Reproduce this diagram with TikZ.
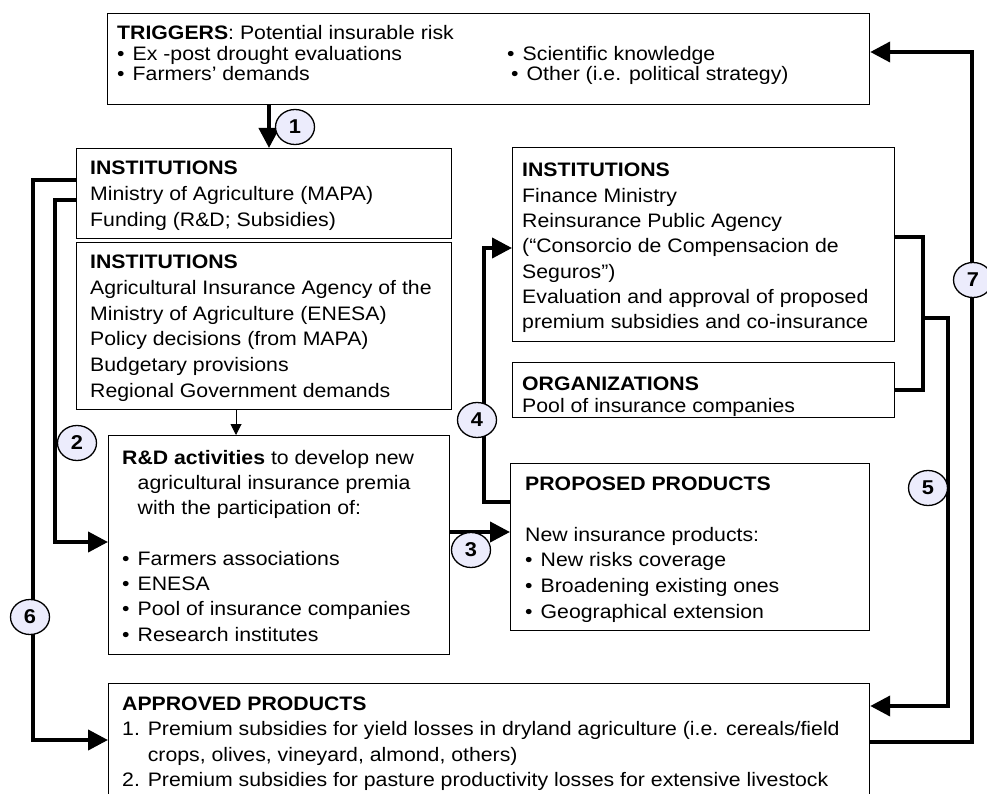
\documentclass[tikz,border=0pt]{standalone}
\usepackage{fontspec}
\setmainfont[FakeStretch=1.09]{Liberation Sans}
\usetikzlibrary{arrows.meta,shapes.geometric}
\definecolor{badgefill}{RGB}{236,236,252}
% stacked lines whose reference point is the first baseline
\newcommand{\stack}[1]{\begin{tabular}[t]{@{}l@{}}#1\end{tabular}}
\newcommand{\bul}{\makebox[15.5pt][l]{•}}

\begin{document}
\begin{tikzpicture}[x=1pt,y=-1pt,
  box/.style={draw, line width=1.2pt, rectangle, inner sep=0pt, anchor=north west},
  txt/.style={anchor=base west, inner sep=0pt, font=\fontsize{19.5}{25.6}\selectfont},
  tight/.style={txt, font=\fontsize{19.5}{20.5}\selectfont},
  flow/.style={line width=4pt, -{Triangle[length=20pt,width=20pt]}},
  link/.style={line width=4pt},
  feed/.style={line width=1pt, -{Triangle[length=11pt,width=11pt]}},
  badge/.style={draw, ellipse, line width=1.3pt, fill=badgefill,
    minimum width=39pt, minimum height=35pt, inner sep=0pt,
    font=\fontsize{20}{20}\selectfont\bfseries},
]
\clip (0,0) rectangle (987,794);
\renewcommand{\arraystretch}{1}

% ---------- boxes ----------
\node[box, minimum width=762pt, minimum height=91pt]  (trig) at (107,13)  {};
\node[box, minimum width=375pt, minimum height=90pt]  (insA) at (76,148)  {};
\node[box, minimum width=375pt, minimum height=167pt] (insB) at (76,242)  {};
\node[box, minimum width=341pt, minimum height=219pt] (rnd)  at (108,435) {};
\node[box, minimum width=382pt, minimum height=194pt] (insC) at (512,147) {};
\node[box, minimum width=382pt, minimum height=55pt]  (org)  at (512,362) {};
\node[box, minimum width=359pt, minimum height=167pt] (prop) at (510,463) {};
\node[box, minimum width=761pt, minimum height=140pt] (appr) at (108,683) {};

% ---------- texts ----------
\node[tight] (trig-l) at (117,40) {\stack{\textbf{TRIGGERS}: Potential insurable risk\\
  \bul Ex -post drought evaluations\\
  \bul Farmers’ demands}};
\node[tight] (trig-r) at (507,60.5) {\stack{\bul Scientific knowledge\\
  \hspace*{4pt}\bul Other (i.e. political strategy)}};

\node[txt] (insA-t) at (90,175) {\stack{\textbf{INSTITUTIONS}\\
  Ministry of Agriculture (MAPA)\\
  Funding (R\&D; Subsidies)}};

\node[txt] (insB-t) at (90,269) {\stack{\textbf{INSTITUTIONS}\\
  Agricultural Insurance Agency of the\\
  Ministry of Agriculture (ENESA)\\
  Policy decisions (from MAPA)\\
  Budgetary provisions\\
  Regional Government demands}};

\node[txt, font=\fontsize{19.5}{25.3}\selectfont] (rnd-t) at (122,464) {\stack{\textbf{R\&D activities} to develop new\\
  \hspace*{15.5pt}agricultural insurance premia\\
  \hspace*{15.5pt}with the participation of:\\
  \\
  \bul Farmers associations\\
  \bul ENESA\\
  \bul Pool of insurance companies\\
  \bul Research institutes}};

\node[txt, font=\fontsize{19.5}{25.3}\selectfont] (insC-t) at (522,177) {\stack{\textbf{INSTITUTIONS}\\
  Finance Ministry\\
  Reinsurance Public Agency\\
  (“Consorcio de Compensacion de\\
  Seguros”)\\
  Evaluation and approval of proposed\\
  premium subsidies and co-insurance}};

\node[tight, font=\fontsize{19.5}{22}\selectfont] (org-t) at (522,390) {\stack{\textbf{ORGANIZATIONS}\\
  Pool of insurance companies}};

\node[txt] (prop-t) at (525,490) {\stack{\textbf{PROPOSED PRODUCTS}\\
  \\
  New insurance products:\\
  \bul New risks coverage\\
  \bul Broadening existing ones\\
  \bul Geographical extension}};

\node[txt] (appr-t) at (122,710) {\stack{\textbf{APPROVED PRODUCTS}\\
  1. Premium subsidies for yield losses in dryland agriculture (i.e. cereals/field\\
  \hphantom{1. }crops, olives, vineyard, almond, others)\\
  2. Premium subsidies for pasture productivity losses for extensive livestock}};

% ---------- route corners ----------
\coordinate (x1)  at (269,0);
\coordinate (x0)  at (236,0);
\coordinate (r2a) at (55,200);  \coordinate (r2b) at (55,542);
\coordinate (r3)  at (0,532);
\coordinate (r4a) at (484,502); \coordinate (r4b) at (484,248);
\coordinate (r5a) at (923,237); \coordinate (r5b) at (923,390);
\coordinate (r5c) at (923,318); \coordinate (r5d) at (948,318);
\coordinate (r5e) at (948,706);
\coordinate (r6a) at (33,180);  \coordinate (r6b) at (33,740);
\coordinate (r7a) at (972,742); \coordinate (r7b) at (972,52);

% ---------- connectors ----------
\draw[flow] (trig.south -| x1) -- (insA.north -| x1);
\draw[feed] (insB.south -| x0) -- (rnd.north -| x0);
\draw[flow] (r2a -| insA.west) -- (r2a) -- (r2b) -- (r2b -| rnd.west);
\draw[flow] (r3 -| rnd.east) -- (r3 -| prop.west);
\draw[flow] (r4a -| prop.west) -- (r4a) -- (r4b) -- (r4b -| insC.west);
\draw[link] (r5a -| insC.east) -- (r5a) -- (r5b) -- (r5b -| org.east);
\draw[flow] (r5c) -- (r5d) -- (r5e) -- (r5e -| appr.east);
\draw[flow] (r6a -| insA.west) -- (r6a) -- (r6b) -- (r6b -| appr.west);
\draw[flow] (r7a -| appr.east) -- (r7a) -- (r7b) -- (r7b -| trig.east);

% ---------- step badges ----------
\node[badge] (b1) at (295,127) {1};
\node[badge] (b2) at (77,443)  {2};
\node[badge] (b3) at (471,550) {3};
\node[badge] (b4) at (477,420) {4};
\node[badge] (b5) at (928,488) {5};
\node[badge] (b6) at (30,617)  {6};
\node[badge] (b7) at (973,280) {7};
\end{tikzpicture}
\end{document}
